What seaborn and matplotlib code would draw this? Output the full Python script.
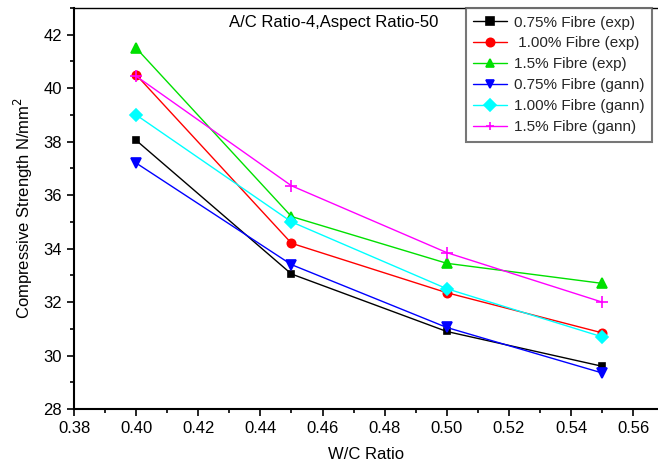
import matplotlib
matplotlib.use("Agg")
import matplotlib.pyplot as plt
import seaborn as sns
import pandas as pd
from matplotlib.ticker import MultipleLocator, FormatStrFormatter

wc = [0.40, 0.45, 0.50, 0.55]
series_names = ["0.75% Fibre (exp)", " 1.00% Fibre (exp)", "1.5% Fibre (exp)",
                "0.75% Fibre (gann)", "1.00% Fibre (gann)", "1.5% Fibre (gann)"]
exp_075 = [38.05, 33.05, 30.9, 29.6]
exp_100 = [40.5, 34.2, 32.35, 30.85]
exp_150 = [41.5, 35.2, 33.45, 32.7]
gann_075 = [37.2, 33.4, 31.05, 29.35]
gann_100 = [39.0, 35.0, 32.5, 30.7]
gann_150 = [40.45, 36.35, 33.85, 32.0]
all_values = [exp_075, exp_100, exp_150, gann_075, gann_100, gann_150]

colors = ["#000000", "#ff0000", "#00e000", "#0000ff", "#00ffff", "#ff00ff"]
markers = ["s", "o", "^", "v", "D", "+"]
msizes = [5, 6, 7.5, 7.5, 6, 8]

rows = []
for name, vals in zip(series_names, all_values):
    for x, y in zip(wc, vals):
        rows.append({"W/C Ratio": x, "Strength": y, "Series": name})
df = pd.DataFrame(rows)

sns.set_style("ticks")
plt.rcParams["font.family"] = ["Liberation Sans", "DejaVu Sans"]

fig = plt.figure(figsize=(6.58, 4.68), dpi=100)
ax = fig.add_axes([0.1125, 0.126, 0.8875, 0.857])

for name, c, m, ms in zip(series_names, colors, markers, msizes):
    sub = df[df["Series"] == name]
    sns.lineplot(data=sub, x="W/C Ratio", y="Strength", color=c, marker=m,
                 markersize=ms, markeredgecolor=c, markerfacecolor=c,
                 markeredgewidth=1.2, linewidth=1.0, label=name, ax=ax)

ax.set_xlim(0.38, 0.568)
ax.set_ylim(28, 43)
ax.xaxis.set_major_locator(MultipleLocator(0.02))
ax.xaxis.set_minor_locator(MultipleLocator(0.01))
ax.yaxis.set_major_locator(MultipleLocator(2))
ax.yaxis.set_minor_locator(MultipleLocator(1))
ax.xaxis.set_major_formatter(FormatStrFormatter("%.2f"))
ax.tick_params(axis="both", which="major", direction="out", length=5, width=1.2,
               labelsize=12, colors="black")
ax.tick_params(axis="both", which="minor", direction="out", length=3, width=1.2,
               colors="black")

for s in ["left", "bottom"]:
    ax.spines[s].set_linewidth(1.5)
    ax.spines[s].set_color("black")
ax.spines["top"].set_linewidth(1.0)
ax.spines["top"].set_color("black")
ax.spines["right"].set_visible(False)

ax.set_xlabel("W/C Ratio", fontsize=12, labelpad=8, color="black")
ax.set_ylabel("Compressive Strength N/mm$^2$", fontsize=12, labelpad=6, color="black")

ax.text(0.38 + (334 - 74) / 62.1 * 0.02, 42.45, "A/C Ratio-4,Aspect Ratio-50",
        ha="center", va="center", fontsize=12, color="black")

handles, labels = ax.get_legend_handles_labels()
leg = ax.legend(handles, labels, loc="upper right", bbox_to_anchor=(0.99, 1.0),
                fontsize=11, frameon=True, fancybox=False, handlelength=2.2,
                handletextpad=0.45, labelspacing=0.45, borderpad=0.5,
                borderaxespad=0.0)
leg.get_frame().set_edgecolor("#555555")
leg.get_frame().set_linewidth(1.5)
for lh in leg.get_lines():
    lh.set_markersize(6)

fig.savefig("out.png", dpi=100)
